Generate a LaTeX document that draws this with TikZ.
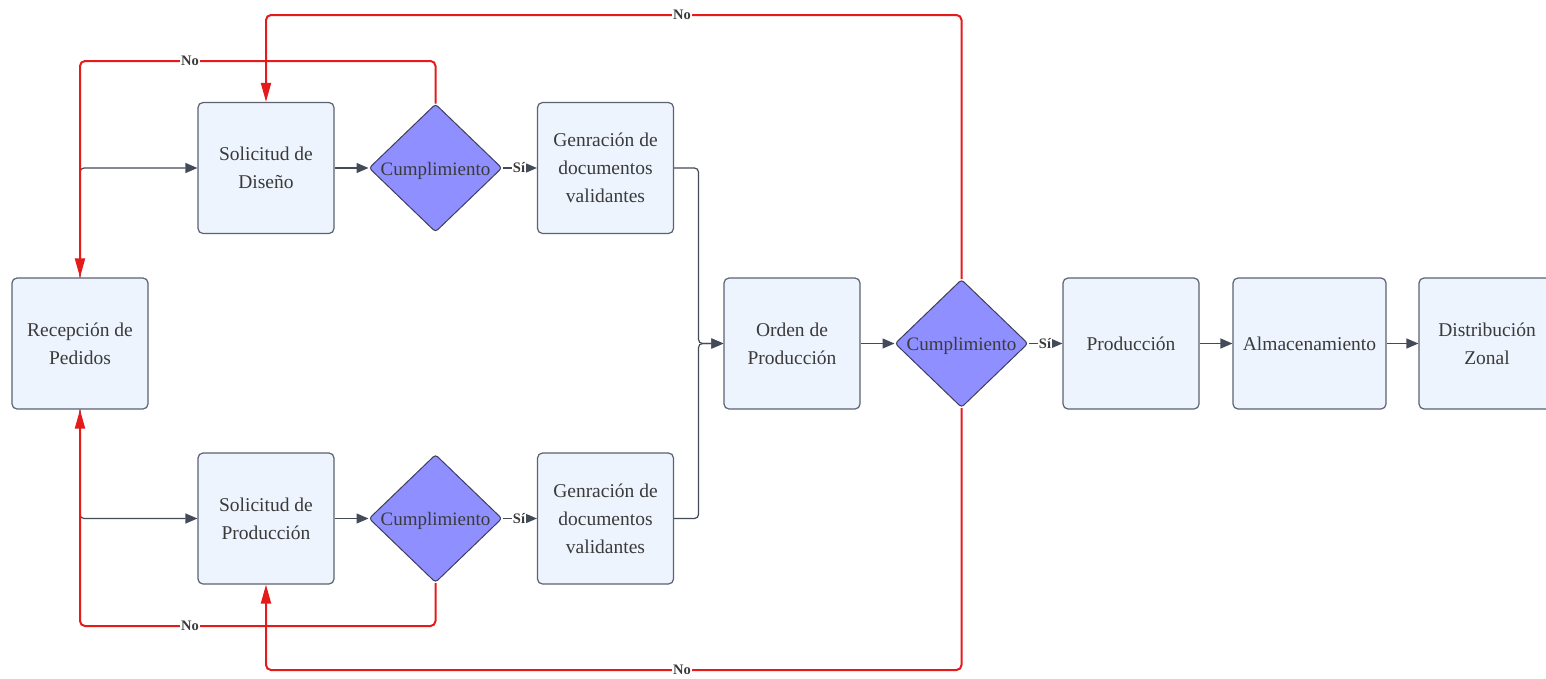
\documentclass[tikz,border=0pt]{standalone}
\usepackage{fontspec}
\setmainfont{Liberation Serif}
\usetikzlibrary{arrows.meta,shapes.geometric}
\definecolor{boxfill}{HTML}{EDF4FE}
\definecolor{boxline}{HTML}{5B6270}
\definecolor{dfill}{HTML}{8F8FFF}
\definecolor{dline}{HTML}{3E3E5C}
\definecolor{txt}{HTML}{3A3A3A}
\definecolor{rd}{HTML}{E51A1A}
\definecolor{ar}{HTML}{444B58}
\begin{document}
\begin{tikzpicture}[x=1pt,y=-1pt,
  box/.style={draw=boxline,fill=boxfill,line width=1.2pt,rounded corners=5pt,
    minimum width=136pt,minimum height=131pt,align=center,text=txt,inner sep=0pt,
    font=\fontsize{19.5}{28}\selectfont},
  dec/.style={diamond,draw=dline,fill=dfill,line width=1pt,rounded corners=3pt,
    minimum width=133pt,minimum height=128pt,inner sep=0pt,text=txt,
    text height=16pt,text depth=2pt,
    font=\fontsize{19}{24}\selectfont},
  gl/.style={draw=ar,line width=1.2pt,rounded corners=4pt,
    -{Triangle[length=12pt,width=10pt]}},
  rl/.style={draw=rd,line width=2pt,rounded corners=5pt,
    -{Triangle[length=19pt,width=10pt]}},
  lbl/.style={fill=white,inner sep=1pt,text=txt,font=\fontsize{14.5}{14.5}\selectfont\bfseries}
]
\useasboundingbox (0,0) rectangle (1546,678);

\node[box] (rec) at (80,343.5) {Recepción de\\Pedidos};
\node[box] (sd)  at (266,168) {Solicitud de\\Diseño};
\node[dec] (d1)  at (435.5,168) {Cumplimiento};
\node[box] (g1)  at (605.5,168) {Genración de\\documentos\\validantes};
\node[box] (sp)  at (266,518.5) {Solicitud de\\Producción};
\node[dec] (d2)  at (435.5,518.5) {Cumplimiento};
\node[box] (g2)  at (605.5,518.5) {Genración de\\documentos\\validantes};
\node[box] (ord) at (792,343.5) {Orden de\\Producción};
\node[dec] (d3)  at (961.5,343.5) {Cumplimiento};
\node[box] (pro) at (1131,343.5) {Producción};
\node[box,minimum width=153pt] (alm) at (1309.5,343.5) {Almacenamiento};
\node[box] (dis) at (1487,343.5) {Distribución\\Zonal};

\coordinate (mj) at (698.5,343.5);
\coordinate (c1) at (80,61);
\coordinate (c2) at (266,15);
\coordinate (c3) at (80,626);
\coordinate (c4) at (266,670);

% gray connectors
\draw[gl] (rec.north) |- (sd.west);
\draw[gl] (rec.south) |- (sp.west);
\draw[gl] (sd.east) -- (d1.west);
\draw[gl] (sp.east) -- (d2.west);
\draw[gl] (d1.east) -- (g1.west);
\draw[gl] (d2.east) -- (g2.west);
\draw[gl] (g1.east) -| (mj) -- (ord.west);
\draw[gl] (g2.east) -| (mj) -- (ord.west);
\draw[gl] (ord.east) -- (d3.west);
\draw[gl] (d3.east) -- (pro.west);
\draw[gl] (pro.east) -- (alm.west);
\draw[gl] (alm.east) -- (dis.west);

% red connectors
\draw[rl] (d1.north) |- (c1) -- (rec.north);
\draw[rl] (d2.south) |- (c3) -- (rec.south);
\draw[rl] (d3.north) |- (c2) -- (sd.north);
\draw[rl] (d3.south) |- (c4) -- (sp.south);

% labels
\node[lbl] at (519,168) {Sí};
\node[lbl] at (519,518.5) {Sí};
\node[lbl] at (1045,343.5) {Sí};
\node[lbl] at (190,61) {No};
\node[lbl] at (190,626) {No};
\node[lbl] at (682,15) {No};
\node[lbl] at (682,670) {No};
\end{tikzpicture}
\end{document}
